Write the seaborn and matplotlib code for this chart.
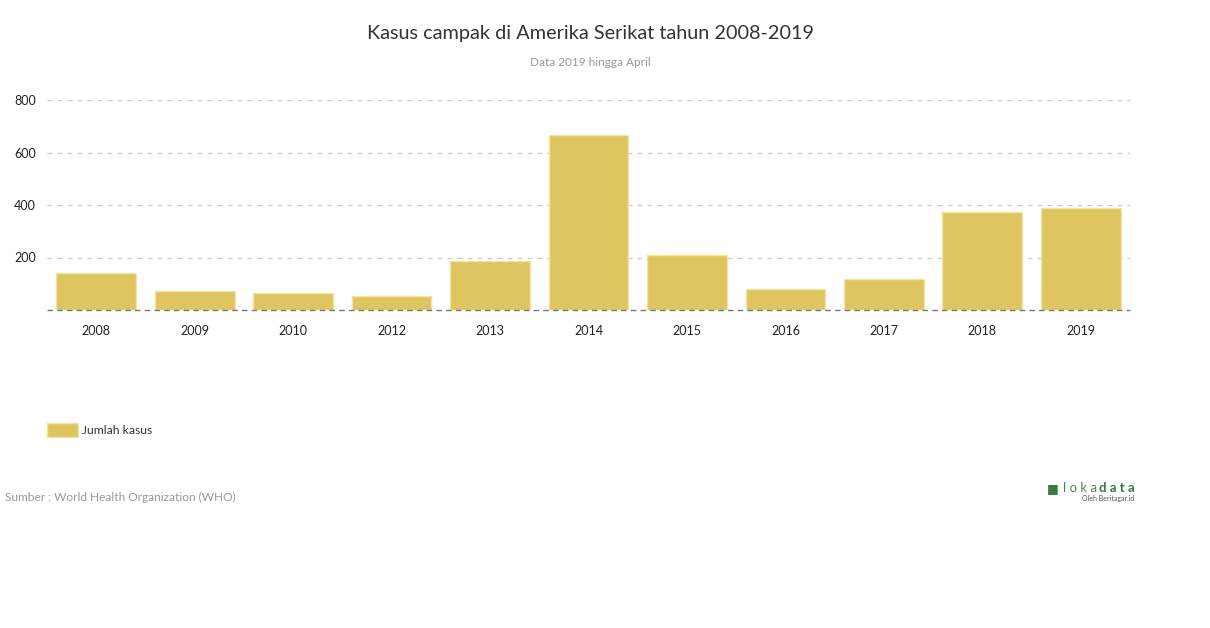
import pandas as pd
import matplotlib.pyplot as plt
import seaborn as sns
from matplotlib.patches import Patch

tahun = ['2008', '2009', '2010', '2012', '2013', '2014', '2015', '2016', '2017', '2018', '2019']
kasus = [140, 71, 63, 55, 187, 667, 209, 80, 118, 373, 389]
yticks = [200, 400, 600, 800]

df = pd.DataFrame({'Tahun': tahun, 'Jumlah kasus': kasus})

sns.set_theme(style="white")
plt.rcParams['font.family'] = ['Lato', 'DejaVu Sans']

warna = '#dec55f'
fig = plt.figure(figsize=(12.1, 6.28), dpi=100)
ax = fig.add_axes([47 / 1210, 1 - 310 / 628, (1130 - 47) / 1210, 210 / 628])

sns.barplot(data=df, x='Tahun', y='Jumlah kasus', color=warna, saturation=1,
            width=0.81, edgecolor='#f2e4a6', linewidth=1, ax=ax)

ax.set_ylim(0, 800)
ax.set_xlim(-0.5, len(tahun) - 0.5)
ax.set_yticks(yticks)
ax.set_yticklabels([str(v) for v in yticks])
for v in yticks:
    ax.axhline(v, color='#cccccc', linestyle=(0, (4, 4)), linewidth=0.9, zorder=0)
ax.axhline(0, color='#777777', linestyle=(0, (4, 3)), linewidth=1.0, zorder=5, clip_on=False)

for s in ax.spines.values():
    s.set_visible(False)
ax.tick_params(axis='both', length=0, labelsize=9, colors='#222222')
ax.tick_params(axis='x', pad=11)
ax.tick_params(axis='y', pad=0)
for lbl in ax.get_yticklabels():
    lbl.set_horizontalalignment('left')
    lbl.set_x(-33 / 1083)
ax.set_xlabel('')
ax.set_ylabel('')

fig.text(0.488, 1 - 33 / 628, 'Kasus campak di Amerika Serikat tahun 2008-2019',
         ha='center', va='center', fontsize=14.3, color='#333333')
fig.text(0.488, 1 - 62 / 628, 'Data 2019 hingga April',
         ha='center', va='center', fontsize=8.5, color='#999999')

leg = fig.legend(handles=[Patch(facecolor=warna, edgecolor='#f2e4a6', label='Jumlah kasus')],
                 loc='center left', bbox_to_anchor=(36 / 1210, 1 - 430 / 628),
                 frameon=False, fontsize=8.7, handlelength=2.6, handleheight=1.3,
                 handletextpad=0.3, labelcolor='#333333')

fig.text(5 / 1210, 1 - 497 / 628, 'Sumber : World Health Organization (WHO)',
         ha='left', va='center', fontsize=8.6, color='#999999')

fig.text(1063 / 1210, 1 - 488 / 628, 'l o k a', ha='left', va='center', fontsize=9.5,
         color='#4a8a4a')
fig.text(1135 / 1210, 1 - 488 / 628, 'd a t a', ha='right', va='center', fontsize=9.5,
         color='#3b7a3b', fontweight='bold')
fig.text(1047 / 1210, 1 - 488 / 628, '■', ha='left', va='center', fontsize=9,
         color='#3b7a3b')
fig.text(1134 / 1210, 1 - 499 / 628, 'Oleh Beritagar.id', ha='right', va='center',
         fontsize=5, color='#555555')

fig.savefig('out.png', dpi=100)
